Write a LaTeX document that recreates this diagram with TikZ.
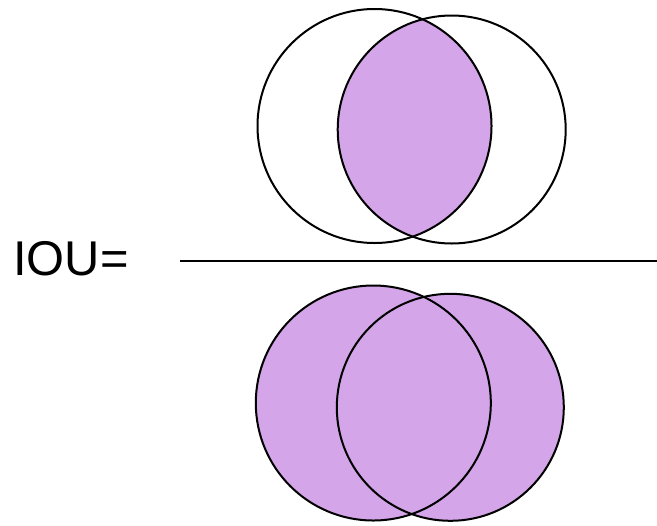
\documentclass[tikz,border=0pt]{standalone}
\usepackage{fontspec}
\setmainfont{Liberation Sans}
\definecolor{iouviolet}{RGB}{212,165,232}
\begin{document}
\begin{tikzpicture}[x=0.5pt,y=-0.5pt]
    \useasboundingbox (0,0) rectangle (657,525);
    
    % Intersection of the two boxes (numerator)
    \begin{scope}
        \clip (374.5,126) circle (117);
        \fill[iouviolet] (451.7,129.5) circle (114);
    \end{scope}
    \draw[line width=1pt] (374.5,126) circle (117);
    \draw[line width=1pt] (451.7,129.5) circle (114);
    
    % Union of the two boxes (denominator)
    \fill[iouviolet] (373.3,403) circle (117.5);
    \fill[iouviolet] (450.3,407.3) circle (113.5);
    \draw[line width=1pt] (373.3,403) circle (117.5);
    \draw[line width=1pt] (450.3,407.3) circle (113.5);
    
    % Fraction bar and label
    \draw[line width=1pt] (180,261) -- (657,261);
    \node[anchor=base west, inner sep=0pt] (iou) at (13,275) {\fontsize{24.4}{29}\selectfont IOU=};
\end{tikzpicture}
\end{document}
